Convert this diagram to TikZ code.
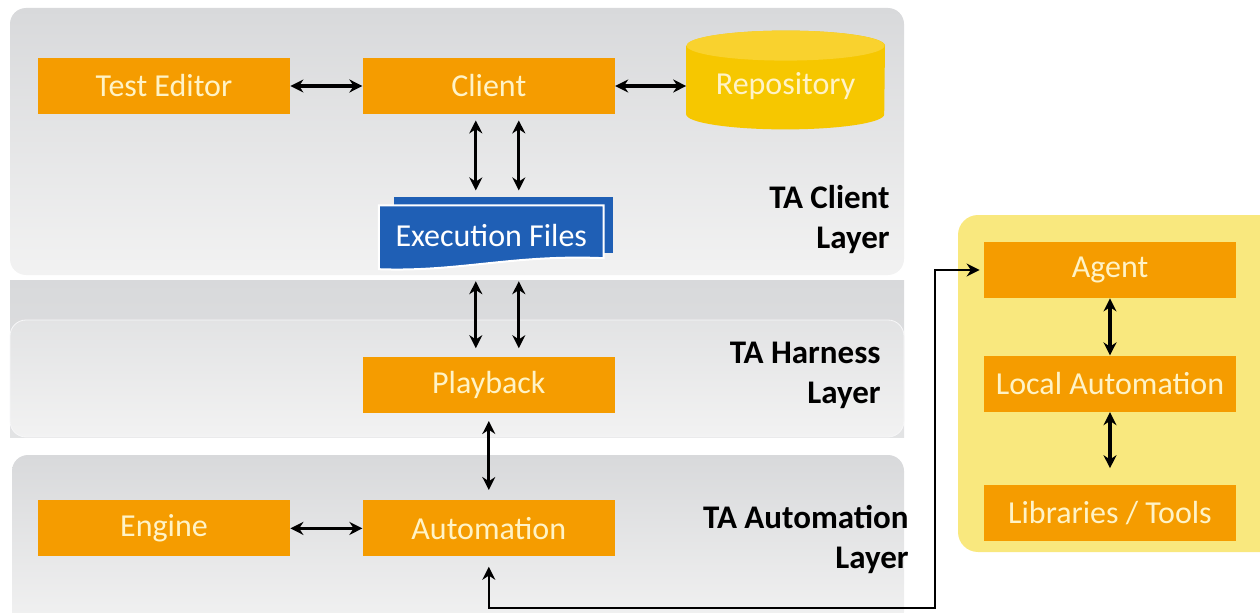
\documentclass[tikz,border=0pt]{standalone}
\usepackage{fontspec}
\setmainfont{Carlito}
\usetikzlibrary{arrows.meta, positioning, backgrounds}

\definecolor{boxorange}{HTML}{F59C00}
\definecolor{boxtext}{HTML}{FFF3C6}
\definecolor{docblue}{HTML}{1F5FB5}
\definecolor{repobody}{HTML}{F6C700}
\definecolor{repotop}{HTML}{F9D22E}
\definecolor{agentbg}{HTML}{F9E87E}
\definecolor{paneltop}{HTML}{D8D9DB}
\definecolor{panelbot}{HTML}{F2F2F2}

\begin{document}
\begin{tikzpicture}[x=1pt, y=1pt,
    box/.style={fill=boxorange, text=boxtext, minimum width=126pt, minimum height=28pt, inner sep=0pt, font=\fontsize{16}{18}\selectfont},
    repobox/.style={minimum width=99pt, minimum height=49pt, inner sep=0pt, text=boxtext, font=\fontsize{16}{18}\selectfont},
    docbox/.style={minimum width=112pt, minimum height=30pt, inner sep=0pt, text=white, font=\fontsize{16}{18}\selectfont},
    layerlbl/.style={align=right, anchor=east, inner sep=0pt, font=\bfseries\fontsize{16.5}{20}\selectfont},
    panel/.style={rounded corners=8pt, top color=paneltop, bottom color=panelbot},
    arr/.style={{Stealth[length=6.5pt,width=6.5pt]}-{Stealth[length=6.5pt,width=6.5pt]}, line width=1.6pt}]

\useasboundingbox (0,0) rectangle (630,306);

% Layer panels
\begin{scope}[on background layer]
\shade[panel] (5,168.5) rectangle (452,302);
\shade[top color=paneltop, bottom color=paneltop!60!panelbot] (5,87.5) rectangle (452,166);
\shade[panel, top color=paneltop!60!panelbot, draw=white!80!paneltop] (5,87.5) rectangle (452,146);
\shade[panel] (6,-8) rectangle (452,78.5);
\fill[agentbg, rounded corners=10pt] (479,30) rectangle (640,198.5);
\end{scope}

% TA Client layer
\node[box] (editor) at (82,263) {Test Editor};
\node[box, right=36pt of editor] (client) {Client};
\node[repobox, right=35.5pt of client] (repo) {Repository};
\node[docbox, below=45.5pt of client, xshift=1.25pt] (exec) {Execution Files};

% TA Harness and TA Automation layers
\node[box, below=45pt of exec, xshift=-1.25pt] (play) {Playback};
\node[box, below=43.5pt of play] (auto) {Automation};
\node[box, left=36pt of auto] (engine) {Engine};

% Local side
\node[box] (agent) at (555,171) {Agent};
\node[box, below=28.5pt of agent] (local) {Local Automation};
\node[box, below=36pt of local] (libs) {Libraries / Tools};

% Layer names
\node[layerlbl] (lclient) at (445,196) {TA Client\\Layer};
\node[layerlbl] (lharness) at (440.5,118.5) {TA Harness\\Layer};
\node[layerlbl] (lauto) at (454.5,36.5) {TA Automation\\Layer};

% Repository cylinder and execution files sheets
\begin{scope}[on background layer]
\fill[repobody] ([yshift=-4.5pt]repo.north west) -- ([yshift=10.5pt]repo.south west)
    arc[start angle=180, end angle=360, x radius=49.5pt, y radius=7.5pt]
    -- ([yshift=-4.5pt]repo.north east)
    arc[start angle=0, end angle=180, x radius=49.5pt, y radius=7.5pt] -- cycle;
\fill[repotop] ([yshift=-4.5pt]repo.north) ellipse [x radius=49.5pt, y radius=7.5pt];
\fill[docblue] ([xshift=7.75pt,yshift=4pt]exec.north west) rectangle ([xshift=4.75pt,yshift=6.5pt]exec.south east);
\filldraw[fill=docblue, draw=white, line width=1pt] (exec.north west) -- ([yshift=-1.5pt]exec.south west)
    .. controls ([xshift=40pt,yshift=-3pt]exec.south west) and ([xshift=-45pt,yshift=6pt]exec.south east) ..
    ([yshift=4pt]exec.south east) -- (exec.north east) -- cycle;
\end{scope}

% Connections
\draw[arr] (editor) -- (client);
\draw[arr] (client) -- (repo);
\draw[arr] (engine) -- (auto);
\draw[arr, shorten <=3pt] ([xshift=-6.5pt]client.south) -- ([xshift=-6.5pt,yshift=7.5pt]client.south |- exec.north);
\draw[arr, shorten <=3pt] ([xshift=15pt]client.south) -- ([xshift=15pt,yshift=7.5pt]client.south |- exec.north);
\draw[arr, shorten <=7.5pt, shorten >=4pt] ([xshift=-6.5pt]play.north |- exec.south) -- ([xshift=-6.5pt]play.north);
\draw[arr, shorten <=7.5pt, shorten >=4pt] ([xshift=15pt]play.north |- exec.south) -- ([xshift=15pt]play.north);
\draw[arr, shorten <=4pt, shorten >=5pt] (play) -- (auto);
\draw[arr] (agent) -- (local);
\draw[arr, shorten >=8pt] (local) -- (libs);

% Automation to agent
\coordinate (turn) at (467.5,2);
\draw[arr, line width=1.3pt, shorten <=5pt, shorten >=2pt] (auto.south) -- (auto.south |- turn) -- (turn) |- (agent.west);

\end{tikzpicture}
\end{document}
